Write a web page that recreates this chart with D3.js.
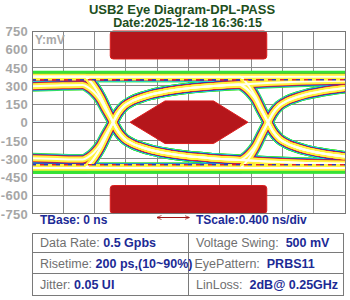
<!DOCTYPE html>
<html>
<head>
<meta charset="utf-8">
<script src="https://d3js.org/d3.v7.min.js"></script>
<style>
  body { margin: 0; background: #fff; }
  text { font-family: "Liberation Sans", Arial, sans-serif; white-space: pre; }
</style>
</head>
<body>
<script>
// axis values
var yTicks = [750, 600, 450, 300, 150, 0, -150, -300, -450, -600, -750];
var xDivs = [0, 1, 2, 3, 4, 5, 6, 7, 8, 9, 10];

// eye traces: [time in div, mV]
var traceA = [[0,375],[1.7,375],[1.85,340],[2.0,290],[2.2,205],[2.35,125],[2.59,0],[2.75,-75],[2.95,-135],[3.2,-175],[3.5,-205],[3.8,-228],[4.3,-255],[5.0,-280],[5.8,-297],[6.65,-310],[6.8,-290],[6.95,-255],[7.15,-190],[7.3,-115],[7.54,0],[7.7,75],[7.9,135],[8.15,175],[8.45,205],[8.75,228],[9.25,255],[10,282]];
var traceB = [[0,-375],[1.7,-375],[1.85,-340],[2.0,-290],[2.2,-205],[2.35,-125],[2.59,0],[2.75,75],[2.95,135],[3.2,175],[3.5,205],[3.8,228],[4.3,255],[5.0,280],[5.8,297],[6.65,310],[6.8,290],[6.95,255],[7.15,190],[7.3,115],[7.54,0],[7.7,-75],[7.9,-135],[8.15,-175],[8.45,-205],[8.75,-228],[9.25,-255],[10,-282]];
var traceC = [[0,375],[1.7,375],[1.85,340],[2.0,290],[2.2,205],[2.35,125],[2.59,0],[2.75,-75],[2.95,-135],[3.2,-175],[3.5,-205],[3.8,-228],[4.3,-255],[5.0,-280],[5.8,-297],[6.65,-310],[7.5,-322],[8.5,-333],[10,-342]];
var traceD = [[0,-375],[1.7,-375],[1.85,-340],[2.0,-290],[2.2,-205],[2.35,-125],[2.59,0],[2.75,75],[2.95,135],[3.2,175],[3.5,205],[3.8,228],[4.3,255],[5.0,280],[5.8,297],[6.65,310],[7.5,322],[8.5,333],[10,342]];
var traceE = [[0,296],[0.8,302],[1.62,306],[1.8,285],[1.97,250],[2.18,185],[2.34,110],[2.59,0],[2.75,-75],[2.95,-135],[3.2,-175],[3.5,-205],[3.8,-228],[4.3,-255],[5.0,-280],[5.8,-297],[6.65,-310],[7.5,-322],[8.5,-333],[10,-342]];
var traceF = [[0,-296],[0.8,-302],[1.62,-306],[1.8,-285],[1.97,-250],[2.18,-185],[2.34,-110],[2.59,0],[2.75,75],[2.95,135],[3.2,175],[3.5,205],[3.8,228],[4.3,255],[5.0,280],[5.8,297],[6.6,310],[6.78,288],[6.95,250],[7.15,185],[7.3,110],[7.54,0],[7.7,-75],[7.9,-135],[8.15,-175],[8.45,-205],[8.75,-228],[9.25,-255],[10,-282]];
var traceG = [[0,375],[6.65,375],[6.8,340],[6.95,290],[7.15,205],[7.3,125],[7.54,0],[7.7,-75],[7.9,-135],[8.15,-175],[8.45,-205],[8.75,-228],[9.25,-255],[10,-282]];
var traceH = [[0,-375],[6.65,-375],[6.8,-340],[6.95,-290],[7.15,-205],[7.3,-125],[7.54,0],[7.7,75],[7.9,135],[8.15,175],[8.45,205],[8.75,228],[9.25,255],[10,282]];
var traceHigh = [[0,375],[10,375]];
var traceLow = [[0,-375],[10,-375]];
var traces = [traceA, traceB, traceC, traceD, traceE, traceF, traceG, traceH, traceHigh, traceLow];

var edgeLevels = [410, -410];   // outer green lines
var dashLevels = [349, -349];   // dotted multicolour lines

// eye mask
var maskTop = [[2.5, 520], [7.5, 750]];
var maskBottom = [[2.5, -750], [7.5, -520]];
var maskHex = [[3.13,0],[4.25,175],[5.8,175],[6.9,0],[5.8,-175],[4.25,-175]];

var infoRows = [
  ["Data Rate: ", "0.5 Gpbs", "Voltage Swing:  ", "500 mV"],
  ["Risetime: ", "200 ps,(10~90%)", "EyePattern:  ", "PRBS11"],
  ["Jitter: ", "0.05 UI", "LinLoss:  ", "2dB@ 0.25GHz"]
];

var W = 350, H = 300;
var pL = 32, pR = 345, pT = 31, pB = 213.5;

var svg = d3.select("body").append("svg")
  .attr("width", W).attr("height", H);

var x = d3.scaleLinear().domain([0, 10]).range([pL, pR]);
var y = d3.scaleLinear().domain([-750, 750]).range([pB, pT]);

// titles
svg.append("text").attr("x", 182).attr("y", 13.5)
  .attr("text-anchor", "middle").attr("fill", "#1d4f1d")
  .style("font-size", "13px").style("font-weight", "bold")
  .text("USB2 Eye Diagram-DPL-PASS");
svg.append("text").attr("x", 187.5).attr("y", 27)
  .attr("text-anchor", "middle").attr("fill", "#1d4f1d")
  .style("font-size", "12.5px").style("font-weight", "bold")
  .text("Date:2025-12-18 16:36:15");

// grid
var grid = svg.append("g").attr("shape-rendering", "crispEdges");
grid.selectAll(".gx").data(xDivs).enter().append("line")
  .attr("x1", d => x(d)).attr("x2", d => x(d))
  .attr("y1", pT).attr("y2", pB)
  .attr("stroke", "#8a8a8a").attr("stroke-width", 1);
grid.selectAll(".gy").data(yTicks).enter().append("line")
  .attr("x1", pL).attr("x2", pR)
  .attr("y1", d => y(d)).attr("y2", d => y(d))
  .attr("stroke", "#8a8a8a").attr("stroke-width", 1);

// y labels
svg.selectAll(".ylab").data(yTicks).enter().append("text")
  .attr("x", 28).attr("y", d => y(d) + 5)
  .attr("text-anchor", "end").attr("fill", "#a6a6a6")
  .style("font-size", "13px").style("font-weight", "bold").style("letter-spacing", "0.3px")
  .text(d => d);

svg.append("text").attr("x", 35).attr("y", 44)
  .attr("fill", "#a8a8a8").style("font-size", "12px").style("font-weight", "bold")
  .text("Y:mV");

// traces
svg.append("clipPath").attr("id", "plotclip").append("rect")
  .attr("x", pL).attr("y", pT).attr("width", pR - pL).attr("height", pB - pT);
var eye = svg.append("g").attr("clip-path", "url(#plotclip)");
var line = d3.line().x(d => x(d[0])).y(d => y(d[1])).curve(d3.curveMonotoneX);

var layers = [
  {c: "#36e236", w: 11},
  {c: "#22d2e2", w: 9.6},
  {c: "#3434b4", w: 8.5},
  {c: "#e2222c", w: 7.3},
  {c: "#fff33c", w: 6},
  {c: "#fffff2", w: 2}
];
layers.forEach(function(l) {
  eye.selectAll(null).data(traces).enter().append("path")
    .attr("d", line).attr("fill", "none")
    .attr("stroke", l.c).attr("stroke-width", l.w);
});

eye.selectAll(".edge").data(edgeLevels).enter().append("line")
  .attr("x1", pL).attr("x2", pR)
  .attr("y1", d => y(d)).attr("y2", d => y(d))
  .attr("stroke", "#36e236").attr("stroke-width", 3);

[["#3434b4", 0], ["#e2222c", 4], ["#fff33c", 8]].forEach(function(p) {
  eye.selectAll(null).data(dashLevels).enter().append("line")
    .attr("x1", pL).attr("x2", pR)
    .attr("y1", d => y(d)).attr("y2", d => y(d))
    .attr("stroke", p[0]).attr("stroke-width", 1.6)
    .attr("stroke-dasharray", "4 8").attr("stroke-dashoffset", p[1]);
});

// mask
[maskTop, maskBottom].forEach(function(m) {
  svg.append("rect")
    .attr("x", x(m[0][0])).attr("y", y(m[1][1]))
    .attr("width", x(m[1][0]) - x(m[0][0]))
    .attr("height", y(m[0][1]) - y(m[1][1]))
    .attr("rx", 3)
    .attr("fill", "#b5161b").attr("stroke", "#dc1c1c").attr("stroke-width", 1);
});
svg.append("path")
  .attr("d", d3.line().x(d => x(d[0])).y(d => y(d[1]))(maskHex) + "Z")
  .attr("fill", "#b5161b").attr("stroke", "#dc1c1c").attr("stroke-width", 1);

// border
svg.append("rect").attr("x", pL).attr("y", pT)
  .attr("width", pR - pL).attr("height", pB - pT)
  .attr("fill", "none").attr("stroke", "#777").attr("shape-rendering", "crispEdges");

// time info
svg.append("text").attr("x", 40).attr("y", 224)
  .attr("fill", "#1c2a95").style("font-size", "12px").style("font-weight", "bold")
  .text("TBase: 0 ns");
svg.append("text").attr("x", 196).attr("y", 224)
  .attr("fill", "#1c2a95").style("font-size", "12px").style("font-weight", "bold")
  .text("TScale:0.400 ns/div");

var defs = svg.append("defs");
defs.append("marker").attr("id", "ah").attr("viewBox", "0 0 10 10")
  .attr("refX", 9).attr("refY", 5).attr("markerWidth", 5).attr("markerHeight", 5)
  .attr("orient", "auto-start-reverse")
  .append("path").attr("d", "M0,1 L10,5 L0,9").attr("fill", "none")
  .attr("stroke", "#a01818").attr("stroke-width", 1.5);
svg.append("line").attr("x1", 157).attr("x2", 189).attr("y1", 217.5).attr("y2", 217.5)
  .attr("stroke", "#a01818").attr("stroke-width", 1)
  .attr("marker-start", "url(#ah)").attr("marker-end", "url(#ah)");

// info table
var tx0 = 32, tx1 = 188, tx2 = 343;
var rowY = [233, 252, 273.5, 295];
var tbl = svg.append("g").attr("shape-rendering", "crispEdges");
tbl.append("rect").attr("x", tx0).attr("y", rowY[0])
  .attr("width", tx2 - tx0).attr("height", rowY[3] - rowY[0])
  .attr("fill", "none").attr("stroke", "#7a7a7a");
tbl.selectAll(".rl").data(rowY.slice(1, 3)).enter().append("line")
  .attr("x1", tx0).attr("x2", tx2).attr("y1", d => d).attr("y2", d => d)
  .attr("stroke", "#7a7a7a");
tbl.append("line").attr("x1", tx1).attr("x2", tx1)
  .attr("y1", rowY[0]).attr("y2", rowY[3]).attr("stroke", "#7a7a7a");

var textY = [247, 268, 289];
infoRows.forEach(function(r, i) {
  [[40, 0], [i === 1 ? 194.5 : 196, 2]].forEach(function(c) {
    var t = svg.append("text").attr("x", c[0]).attr("y", textY[i])
      .style("font-size", "12.5px");
    t.append("tspan").attr("fill", "#707070").text(r[c[1]]);
    t.append("tspan").attr("fill", "#1c2a95").style("font-weight", "bold").text(r[c[1] + 1]);
  });
});
</script>
</body>
</html>
